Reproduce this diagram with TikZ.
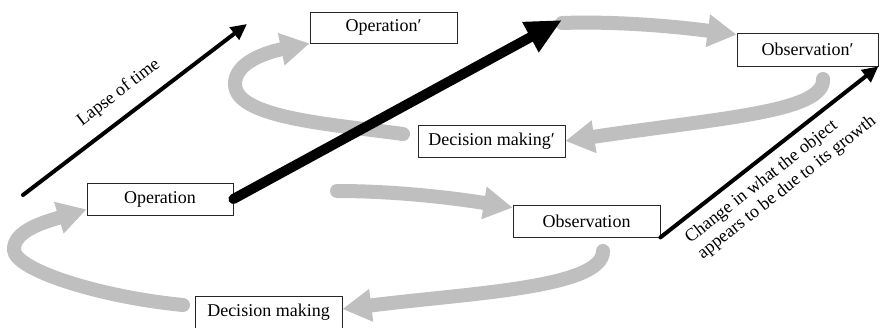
\documentclass[tikz,border=0pt]{standalone}
\usepackage{fontspec}
\setmainfont{Liberation Serif}
\usetikzlibrary{arrows.meta,calc}
\begin{document}
\begin{tikzpicture}[x=1pt,y=-1pt,
  stage/.style={draw=black!85, line width=0.8pt, fill=white, inner sep=0pt,
    minimum width=147pt, minimum height=32pt, font=\fontsize{18}{20}\selectfont},
  cycle/.style={draw=black!25, line width=14pt, line cap=round,
    -{Triangle[length=29pt,width=31pt]}},
  growth/.style={line width=10pt, line cap=round,
    -{Triangle[length=36pt,width=32pt]}},
  timeline/.style={line width=4pt, line cap=round,
    -{Triangle[length=16pt,width=15pt]}},
  lbl/.style={font=\fontsize{18}{20}\selectfont, inner sep=0pt, sloped}
]
\useasboundingbox (0,0) rectangle (880,328);

% stages of the two cycles
\node[stage, minimum height=31pt] (opP) at (383.5,27.5) {Operation′};
\node[stage] (dmP) at (491.5,141) {Decision making′};
\node[stage, minimum width=141pt, minimum height=33pt] (obP) at (807.5,49.5) {Observation′};
\node[stage, minimum width=146pt] (op) at (160,199) {Operation};
\node[stage] (ob) at (586.5,221) {Observation};
\node[stage] (dm) at (268.5,312) {Decision making};

% free ends of the connectors
\coordinate (dmOut) at (183,305);
\coordinate (obOut) at (603,251);
\coordinate (opOut) at (337,191);
\coordinate (dmPOut) at (403,134);
\coordinate (opPOut) at (562,23);
\coordinate (obPOut) at (823,79);
\coordinate (grow) at (562,20);
\coordinate (t0) at (23,195);
\coordinate (t1) at (247,24);

% lower cycle
\draw[cycle] (dmOut) .. controls (100,297) and (15,270) .. (14,250)
  .. controls (13,230) and (48,221) .. ($(op.south west)+(0,-6)$);
\draw[cycle] (opOut) .. controls (400,191) and (460,199) .. ($(ob.north west)+(0,3)$);
\draw[cycle] (obOut) .. controls (603,288) and (470,293) .. ($(dm.east)+(0,-3)$);

% upper cycle
\draw[cycle] (dmPOut) .. controls (330,124) and (237,118) .. (235,85)
  .. controls (234,62) and (268,52) .. (opP.south west);
\draw[cycle] (opPOut) .. controls (620,21) and (680,27) .. ($(obP.north west)+(0,2)$);
\draw[cycle] (obPOut) .. controls (825,112) and (720,118) .. (dmP.east);

% time and growth
\draw[timeline] (t0) -- node[lbl, pos=0.49, above=13pt] {Lapse of time} (t1);
\draw[growth] (op.east) -- (grow);
\draw[timeline] (ob.south east) -- node[lbl, pos=0.47, below=9pt, align=left]
  {Change in what the object\\appears to be due to its growth} (obP.south east);
\end{tikzpicture}
\end{document}
